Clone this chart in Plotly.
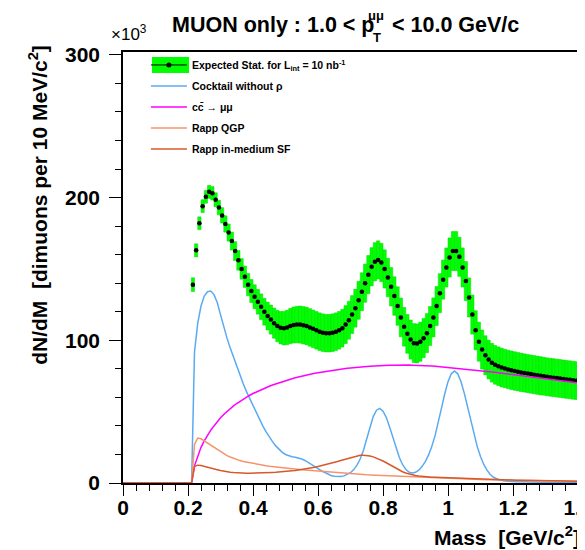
import numpy as np
import plotly.graph_objects as go

# ---------------- data (units: 10^3 dimuons per 10 MeV/c^2) ----------------
bin_center = np.round(np.arange(0.215, 1.3951, 0.01), 3)

expected = [
    139, 163, 182, 194, 200.5, 204, 203, 198.5, 193, 187.5,
    181.5, 175.5, 169.5, 162.5, 156, 150, 144.5, 139, 134.5, 130.5,
    127, 123.5, 120, 117, 114.5, 112, 110, 108.8, 108.5, 109,
    110, 110.7, 111, 111, 110.5, 110, 109, 108, 107, 106,
    105.3, 105, 105, 105.3, 106, 107, 108.5, 111, 114, 118,
    122.5, 128, 134, 140, 146, 151.5, 155, 156.3, 154.5, 150,
    144, 137.5, 131, 124, 116, 109.5, 104.5, 100.5, 98, 97.8,
    99, 101.5, 105, 110, 116, 124, 133, 142.5, 151, 158,
    162.5, 162.5, 158.5, 151, 141.5, 130, 118, 107, 99, 93.5,
    89.5, 86.5, 84.3, 82.8, 81.8, 80.9, 80.2, 79.6, 79, 78.5,
    78, 77.5, 77.1, 76.7, 76.3, 75.9, 75.5, 75.1, 74.8, 74.4,
    74.1, 73.8, 73.5, 73.2, 72.9, 72.6, 72.3, 72, 71.7,
]

stat_err = [
    4.8, 4.6, 4.5, 4.5, 4.5, 4.6, 4.7, 4.9, 5.1, 5.4,
    5.7, 6.0, 6.3, 6.6, 6.9, 7.2, 7.5, 7.8, 8.1, 8.4,
    8.7, 9.0, 9.4, 9.8, 10.2, 10.6, 11.0, 11.4, 11.8, 12.1,
    12.4, 12.6, 12.8, 13.0, 13.1, 13.2, 13.2, 13.2, 13.2, 13.2,
    13.2, 13.2, 13.2, 13.2, 13.2, 13.2, 13.2, 13.3, 13.3, 13.3,
    13.3, 13.3, 13.3, 13.4, 13.4, 13.4, 13.4, 13.4, 13.4, 13.4,
    13.5, 13.5, 13.5, 13.5, 13.6, 13.6, 13.6, 13.7, 13.7, 13.7,
    13.7, 13.7, 13.7, 13.7, 13.7, 13.7, 13.7, 13.7, 13.7, 13.7,
    13.7, 13.7, 13.7, 13.7, 13.7, 13.7, 13.7, 13.7, 13.7, 13.7,
    13.7, 13.6, 13.6, 13.6, 13.6, 13.6, 13.5, 13.5, 13.5, 13.5,
    13.5, 13.5, 13.4, 13.4, 13.4, 13.4, 13.4, 13.4, 13.3, 13.3,
    13.3, 13.3, 13.3, 13.3, 13.3, 13.3, 13.3, 13.3, 13.3,
]

curve_mass = [0.0, 0.211] + list(np.round(np.arange(0.22, 1.4001, 0.01), 2))

cocktail = [0, 0,
    92, 112, 124, 131, 134, 134.5, 132, 126.5, 118, 109,
    101.5, 94.5, 88, 81.5, 75.5, 69.5, 64, 59, 54, 49,
    44.5, 40, 36, 32.3, 29, 26, 23.5, 21.5, 20, 19,
    18.4, 18, 17.6, 16.8, 15.8, 14.5, 13, 11.5, 10, 8.6,
    7.3, 6.2, 5.3, 4.7, 4.4, 4.5, 5, 5.9, 7.2, 9.4,
    12.5, 17, 23, 31, 39.5, 46.5, 51, 52.3, 50.3, 46,
    39.5, 32, 24.5, 18, 13, 9.6, 7.6, 7, 7.5, 9,
    11.5, 15, 19.5, 25.5, 33, 42, 52.5, 62.5, 71, 76.5,
    78.5, 76.5, 71, 63, 53.5, 43.5, 34, 25.5, 18.5, 13,
    9, 6, 4, 2.8, 2, 1.5, 1.2, 1, 0.9, 0.8,
    0.8, 0.7, 0.7, 0.7, 0.6, 0.6, 0.6, 0.5, 0.5, 0.5,
    0.5, 0.4, 0.4, 0.4, 0.4, 0.3, 0.3, 0.3, 0.3,
]

ccbar = [0, 0,
    12, 19, 25, 29.5, 33.5, 37, 40, 43, 45.7, 48,
    50.2, 52.2, 54, 55.7, 57.3, 58.8, 60.2, 61.5, 62.7, 63.8,
    64.9, 65.9, 66.9, 67.8, 68.7, 69.5, 70.3, 71.1, 71.8, 72.5,
    73.1, 73.7, 74.3, 74.9, 75.4, 75.9, 76.4, 76.9, 77.3, 77.7,
    78.1, 78.5, 78.9, 79.2, 79.5, 79.8, 80.1, 80.4, 80.6, 80.9,
    81.1, 81.3, 81.5, 81.7, 81.8, 82, 82.1, 82.2, 82.3, 82.4,
    82.5, 82.5, 82.6, 82.6, 82.6, 82.6, 82.6, 82.5, 82.5, 82.4,
    82.3, 82.2, 82.1, 82, 81.8, 81.6, 81.4, 81.2, 81, 80.8,
    80.6, 80.4, 80.2, 80, 79.7, 79.5, 79.2, 79, 78.7, 78.5,
    78.2, 77.9, 77.6, 77.3, 77.1, 76.8, 76.5, 76.2, 75.9, 75.6,
    75.3, 75, 74.8, 74.5, 74.2, 73.9, 73.6, 73.3, 73, 72.7,
    72.4, 72.2, 71.9, 71.6, 71.3, 71.1, 70.8, 70.5, 70.2,
]

rapp_qgp = [0, 0,
    27, 31.5, 31, 29.5, 28, 26.5, 25, 23.5, 22, 20.5,
    19.2, 18.2, 17.2, 16.4, 15.7, 15.1, 14.6, 14.1, 13.7, 13.3,
    12.9, 12.5, 12.1, 11.8, 11.5, 11.2, 10.9, 10.6, 10.3, 10.1,
    9.9, 9.7, 9.5, 9.3, 9.1, 8.9, 8.8, 8.6, 8.5, 8.3,
    8.1, 7.9, 7.7, 7.5, 7.3, 7.1, 6.9, 6.7, 6.5, 6.3,
    6.1, 5.9, 5.8, 5.7, 5.6, 5.5, 5.4, 5.2, 5.1, 5,
    4.9, 4.7, 4.6, 4.5, 4.4, 4.3, 4.2, 4.1, 4, 3.9,
    3.8, 3.7, 3.6, 3.5, 3.4, 3.3, 3.3, 3.2, 3.1, 3.0,
    3.0, 2.9, 2.8, 2.8, 2.7, 2.6, 2.6, 2.5, 2.5, 2.4,
    2.3, 2.3, 2.2, 2.2, 2.1, 2.1, 2.0, 2.0, 1.9, 1.9,
    1.8, 1.8, 1.7, 1.7, 1.7, 1.6, 1.6, 1.5, 1.5, 1.5,
    1.4, 1.4, 1.4, 1.3, 1.3, 1.3, 1.2, 1.2, 1.2,
]

rapp_sf = [0, 0,
    11.5, 12.5, 12.3, 11.8, 11.2, 10.6, 10, 9.3, 8.7, 8.2,
    7.8, 7.5, 7.3, 7.1, 7.0, 6.9, 6.9, 6.9, 6.9, 7.0,
    7.0, 7.1, 7.2, 7.3, 7.4, 7.5, 7.6, 7.8, 8.0, 8.2,
    8.5, 8.8, 9.1, 9.4, 9.8, 10.2, 10.6, 11.1, 11.6, 12.1,
    12.6, 13.2, 13.8, 14.4, 15.0, 15.7, 16.4, 17.1, 17.8, 18.5,
    19.0, 19.4, 19.5, 19.3, 18.9, 18.3, 17.5, 16.5, 15.4, 14.2,
    12.9, 11.5, 10.2, 9.0, 7.9, 7.0, 6.3, 5.7, 5.3, 4.9,
    4.6, 4.4, 4.2, 4.1, 4.0, 3.9, 3.8, 3.7, 3.6, 3.5,
    3.4, 3.3, 3.2, 3.1, 3.0, 2.9, 2.9, 2.8, 2.7, 2.6,
    2.6, 2.5, 2.4, 2.4, 2.3, 2.2, 2.2, 2.1, 2.1, 2.0,
    2.0, 1.9, 1.9, 1.8, 1.8, 1.7, 1.7, 1.7, 1.6, 1.6,
    1.5, 1.5, 1.5, 1.4, 1.4, 1.4, 1.3, 1.3, 1.3,
]

x_tick_vals = [0, 0.2, 0.4, 0.6, 0.8, 1.0, 1.2, 1.4]
x_tick_text = ["0", "0.2", "0.4", "0.6", "0.8", "1", "1.2", "1.4"]
y_tick_vals = [0, 100, 200, 300]
y_tick_text = ["0", "100", "200", "300"]

assert len(expected) == len(bin_center) == len(stat_err)
for c in (cocktail, ccbar, rapp_qgp, rapp_sf):
    assert len(c) == len(curve_mass), len(c)

# ---------------- figure ----------------
FONT = "Liberation Sans, Arial, Helvetica, sans-serif"
val = np.array(expected)
err = np.array(stat_err)

fig = go.Figure()

fig.add_trace(go.Bar(
    x=bin_center, y=2 * err, base=val - err, width=0.01,
    marker=dict(color="#00ff00", line=dict(color="#00dd00", width=0.5)),
    showlegend=False, hoverinfo="skip",
))
fig.add_trace(go.Scatter(
    x=bin_center, y=val, mode="markers",
    marker=dict(color="black", size=4.5),
    error_x=dict(type="constant", value=0.005, color="black", thickness=1.2, width=0),
    showlegend=False,
))
# legend entry for the expected statistics
fig.add_trace(go.Scatter(
    x=[None], y=[None], mode="lines+markers",
    line=dict(color="black", width=1), marker=dict(color="black", size=5),
    name="Expected Stat. for L<sub>int</sub> = 10 nb<sup>-1</sup>", legendgroup="g1",
))

curves = [
    (cocktail, "#5aaaf2", "Cocktail without ρ"),
    (ccbar, "#ff00ff", "cc\u0304 → μμ"),
    (rapp_qgp, "#f7936c", "Rapp QGP"),
    (rapp_sf, "#d45a2c", "Rapp in-medium SF"),
]
for i, (ys, col, name) in enumerate(curves):
    fig.add_trace(go.Scatter(
        x=curve_mass, y=ys, mode="lines", line=dict(color=col, width=1.5),
        name=name, legendgroup="g%d" % (i + 2),
    ))

axis_common = dict(
    showline=True, linecolor="black", linewidth=1.5, mirror=True,
    showgrid=False, zeroline=False, automargin=False,
    ticks="outside", tickcolor="black", tickwidth=1.2,
    tickfont=dict(family=FONT, size=21, color="black", weight="bold"),
)

# the page body adds an 8px offset, so the figure is 8px smaller than the window
fig.update_layout(
    width=577, height=542,
    margin=dict(l=115, r=7, t=44, b=67, autoexpand=False),
    plot_bgcolor="white", paper_bgcolor="white",
    barmode="overlay",
    xaxis=dict(range=[0, 1.4], tickvals=x_tick_vals, ticktext=x_tick_text, ticklen=11,
               ticklabelstandoff=-6, ticklabeloverflow="allow",
               minor=dict(dtick=0.04, tick0=0, ticklen=6, ticks="outside",
                          tickcolor="black", tickwidth=1),
               **axis_common),
    yaxis=dict(range=[0, 302], tickvals=y_tick_vals, ticktext=y_tick_text, ticklen=12,
               ticklabelstandoff=5,
               minor=dict(dtick=20, tick0=0, ticklen=6, ticks="outside",
                          tickcolor="black", tickwidth=1),
               **axis_common),
    legend=dict(x=0.0504, y=1.0036, xanchor="left", yanchor="top",
                bgcolor="rgba(0,0,0,0)", borderwidth=0, itemwidth=36,
                tracegroupgap=2, traceorder="grouped",
                font=dict(family=FONT, size=10.5, color="black", weight="bold")),
    showlegend=True,
)

ann_font = dict(family=FONT, size=21, color="black", weight="bold")
title_font = dict(family=FONT, size=21.5, color="black", weight="bold")
small_font = dict(family=FONT, size=13, color="black", weight="bold")
annotations = [
    dict(text="MUON only : 1.0 < p", x=0.1033, y=1.0638, xanchor="left", yanchor="middle",
         font=title_font),
    dict(text="μμ", x=0.534, y=1.0858, xanchor="left", yanchor="middle", font=small_font),
    dict(text="T", x=0.544, y=1.0336, xanchor="left", yanchor="middle", font=small_font),
    dict(text="< 10.0 GeV/c", x=0.587, y=1.0638, xanchor="left", yanchor="middle",
         font=title_font),
    dict(text="×10<sup>3</sup>", x=-0.03, y=1.045, xanchor="left", yanchor="middle",
         font=dict(family=FONT, size=17, color="black")),
    dict(text="Mass\u00a0\u00a0[GeV/c<sup>2</sup>]", x=1.0088, y=-0.123, xanchor="right",
         yanchor="middle", font=ann_font),
    dict(text="dN/dM\u00a0\u00a0[dimuons per 10 MeV/c<sup>2</sup>]", x=-0.187, y=1.021,
         xanchor="center", yanchor="top", textangle=-90, font=ann_font),
]
for a in annotations:
    a.update(xref="paper", yref="paper", showarrow=False)
fig.update_layout(annotations=annotations)

# green box behind the first legend symbol
fig.add_shape(type="rect", xref="paper", yref="paper",
              x0=0.0637, x1=0.1451, y0=0.9513, y1=0.9884,
              fillcolor="#00ff00", line=dict(width=0), layer="below")

fig.write_html("out.html")
